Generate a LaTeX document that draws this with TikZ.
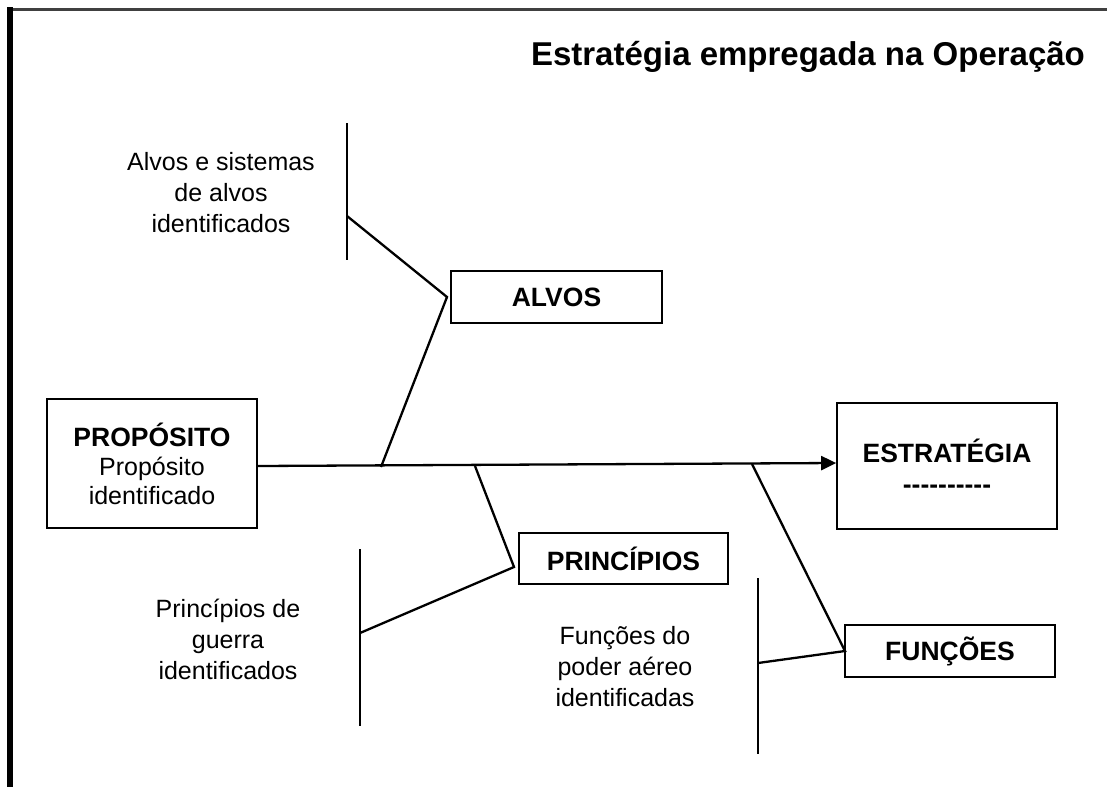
\documentclass[tikz,border=0pt]{standalone}
\usepackage{fontspec}
\setmainfont{Liberation Sans}
\usetikzlibrary{positioning, arrows.meta}

\begin{document}
\begin{tikzpicture}[x=1pt, y=-1pt,
        box/.style = {rectangle, draw, line width=1.7pt, inner sep=0pt,
                     minimum width=#1, font=\fontsize{26.5}{31}\selectfont\bfseries},
     txtnote/.style = {align=center, font=\fontsize{25}{31}\selectfont},
        bone/.style = {line width=2.3pt},
       spine/.style = {line width=2.3pt, -{Triangle[length=15pt,width=14pt]}}
                        ]
\useasboundingbox (0,0) rectangle (1107,787);
% moldura
\draw[line width=3pt, black!75] (7,9) -- (1107,9);
\draw[line width=5.5pt] (10,7) -- (10,787);
% titulo
\node (title) at (808,57) {\fontsize{33}{40}\selectfont\bfseries Estratégia empregada na Operação};
% caixas
\node (prop) [box=210pt, minimum height=129pt, align=center] at (152,463.5)
      {PROPÓSITO\\[-2pt] \fontsize{25}{31}\selectfont\mdseries Propósito\\[-2pt]
       \fontsize{25}{31}\selectfont\mdseries identificado};
\node (estr) [box=220pt, minimum height=126pt, align=center] at (947,466)
      {ESTRATÉGIA\\[0pt] -{}-{}-{}-{}-{}-{}-{}-{}-{}-};
\node (alvos) [box=211pt, minimum height=52pt] at (556.5,297) {ALVOS};
\node (princ) [box=209pt, minimum height=51pt] at (623.5,558.5) {PRINCÍPIOS};
\node (func) [box=210pt, minimum height=52pt] at (950,651) {FUNÇÕES};
% textos
\node (talvos) [txtnote] at (221,193) {Alvos e sistemas\\de alvos\\identificados};
\node (tprinc) [txtnote] at (228,639) {Princípios de\\guerra\\identificados};
\node (tfunc) [txtnote] at (625,667) {Funções do\\poder aéreo\\identificadas};
% espinha
\draw[spine] (prop.east |- 0,466) -- (estr.west |- 0,463);
\coordinate (a0) at (381,467);
\coordinate (a1) at (447,297);
\coordinate (a2) at (347,216);
\coordinate (p0) at (475,466);
\coordinate (p1) at (514,567);
\coordinate (p2) at (360,633);
\coordinate (f0) at (752,464);
\coordinate (f1) at (845,651);
\coordinate (f2) at (758,663);
\draw[bone] (a0) -- (a1) -- (a2);
\draw[bone] (a2 |- 0,123) -- (a2 |- 0,260);
\draw[bone] (p0) -- (p1) -- (p2);
\draw[bone] (p2 |- 0,549) -- (p2 |- 0,726);
\draw[bone] (f0) -- (f1) -- (f2);
\draw[bone] (f2 |- 0,578) -- (f2 |- 0,754);
\end{tikzpicture}
\end{document}
